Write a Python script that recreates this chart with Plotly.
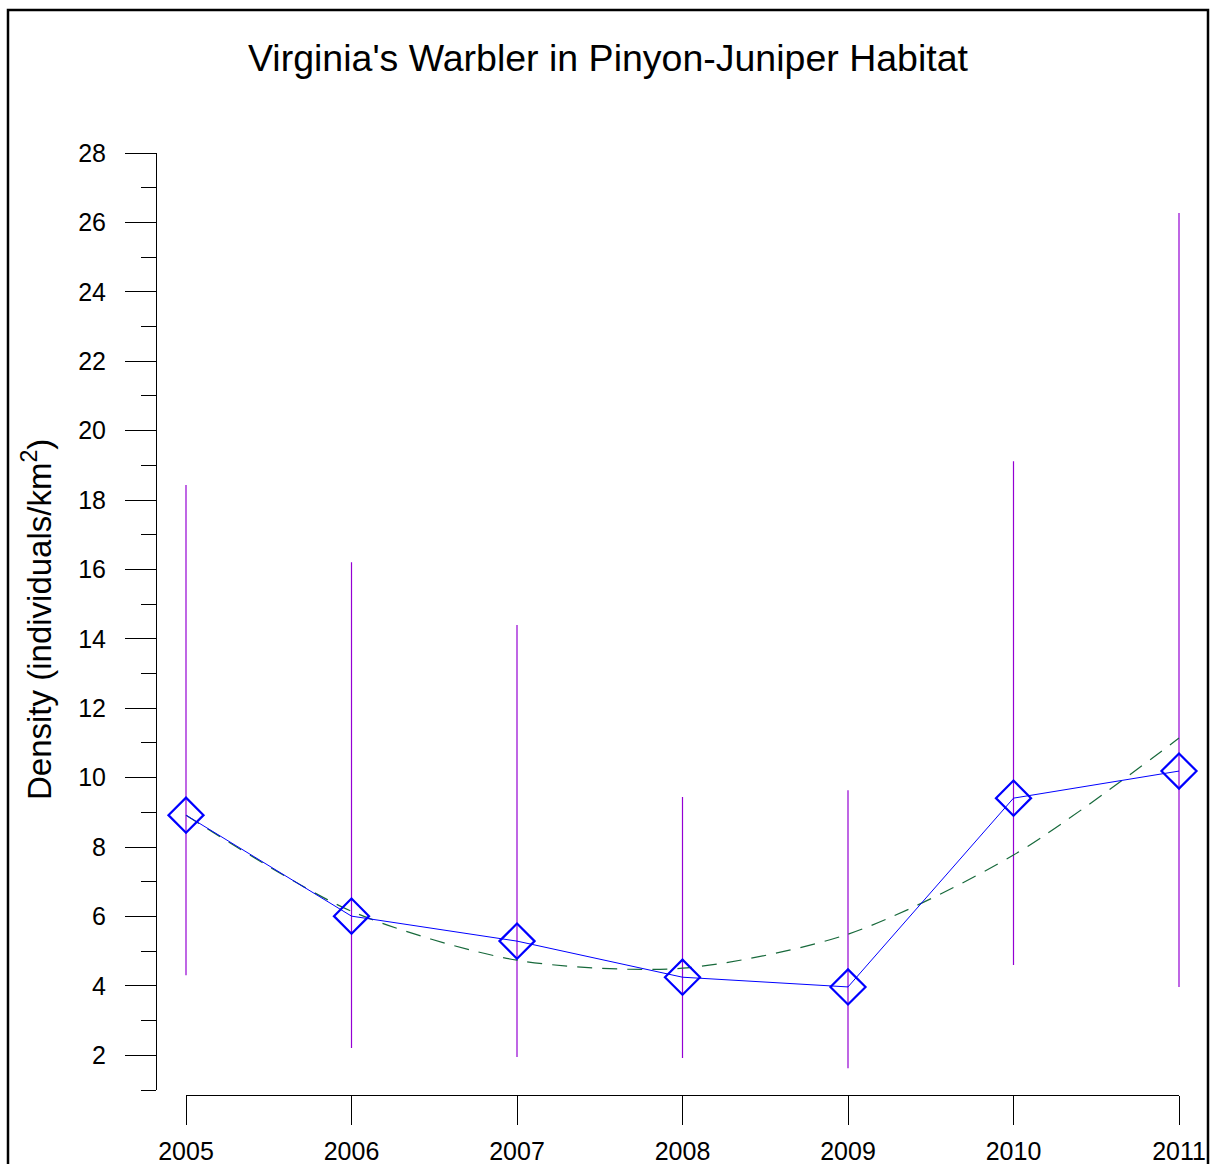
import plotly.graph_objects as go

years = [2005, 2006, 2007, 2008, 2009, 2010, 2011]
density = [8.92, 6.01, 5.29, 4.25, 3.97, 9.41, 10.19]
upper_ci = [18.43, 16.21, 14.40, 9.44, 9.64, 19.12, 26.27]
lower_ci = [4.31, 2.21, 1.95, 1.92, 1.63, 4.60, 3.97]
trend = [8.92, 6.15, 4.74, 4.51, 5.49, 7.77, 11.14]

y_ticks = list(range(2, 29, 2))
title_text = "Virginia's Warbler in Pinyon-Juniper Habitat"
y_title = "Density (individuals/km<sup>2</sup>)"

ERR_COLOR = "#9400D3"
W, H = 1212, 1164
OFF = 0  # body margin removed below

# target pixel geometry (reference coordinates)
X0_PX, X1_PX = 186, 1179      # 2005 and 2011
YAX_PX = 156                  # y-axis line
XAX_PX = 1095                 # x-axis line
YTOP_PX, YBOT_PX = 153, 1090  # y = 28 and y = 1
PR_PX = 1200                  # right edge of plot area

L = YAX_PX - OFF
T = YTOP_PX - OFF
R = W - (PR_PX - OFF)
B = H - (XAX_PX - OFF)
pw = W - L - R
ph = H - T - B

# data x axis spans whole plot area; its range maps 2005->X0_PX, 2011->X1_PX
scale = (X1_PX - X0_PX) / 6.0
x_lo = 2005 - (X0_PX - YAX_PX) / scale
x_hi = 2005 + (PR_PX - X0_PX) / scale


def px_x(p):
    return (p - OFF - L) / pw


def px_y(p):
    return (H - B - (p - OFF)) / ph


fig = go.Figure()

for yr, lo, hi in zip(years, lower_ci, upper_ci):
    fig.add_trace(go.Scatter(x=[yr, yr], y=[lo, hi], mode="lines",
                             line=dict(color=ERR_COLOR, width=1.2),
                             showlegend=False, hoverinfo="skip"))

fig.add_trace(go.Scatter(x=years, y=trend, mode="lines",
                         line=dict(color="#17693B", width=1.2, dash="15px,10px", shape="spline", smoothing=0.8),
                         showlegend=False))

fig.add_trace(go.Scatter(x=years, y=density, mode="lines+markers",
                         line=dict(color="#0000FF", width=1),
                         marker=dict(symbol="diamond-open", size=27, color="#0000FF",
                                     line=dict(width=2.2, color="#0000FF")),
                         cliponaxis=False, showlegend=False))

# invisible trace to activate display axis
fig.add_trace(go.Scatter(x=years, y=density, xaxis="x2", mode="markers",
                         marker=dict(opacity=0), showlegend=False, hoverinfo="skip"))

fig.update_layout(
    width=W, height=H, autosize=False,
    margin=dict(l=L, r=R, t=T, b=B, pad=0, autoexpand=False),
    paper_bgcolor="white", plot_bgcolor="rgba(0,0,0,0)",
    font=dict(family="Liberation Sans, Arial, sans-serif", color="black"),
    title=dict(text=title_text, x=(608 - OFF) / W, xanchor="center",
               y=1 - (58 - OFF) / H, yanchor="middle", automargin=False,
               font=dict(size=37.5, color="black")),
    xaxis=dict(domain=[0, 1], range=[x_lo, x_hi], visible=False, automargin=False,
               showgrid=False, zeroline=False),
    xaxis2=dict(domain=[px_x(X0_PX), px_x(X1_PX)], range=[2005, 2011],
                anchor="free", position=0, automargin=False,
                tickmode="array", tickvals=years, ticktext=[str(y) for y in years],
                ticks="outside", ticklen=29, tickcolor="black", tickwidth=1,
                showline=True, linecolor="black", linewidth=1,
                showgrid=False, zeroline=False,
                tickfont=dict(size=25), ticklabelstandoff=5),
    yaxis=dict(domain=[(XAX_PX - YBOT_PX) / ph, 1], range=[1, 28], anchor="free", position=0,
               automargin=False,
               tickmode="array", tickvals=y_ticks,
               ticks="outside", ticklen=31, tickcolor="black", tickwidth=1,
               minor=dict(dtick=1, tick0=1, ticks="outside", ticklen=15, tickcolor="black", tickwidth=1, showgrid=False),
               showline=True, linecolor="black", linewidth=1,
               showgrid=False, zeroline=False,
               tickfont=dict(size=25), ticklabelstandoff=14),
)

fig.add_annotation(text=y_title, xref="paper", yref="paper",
                   x=px_x(37), y=px_y(620), xanchor="center", yanchor="middle",
                   textangle=-90, showarrow=False, font=dict(size=33, color="black"))

# outer frame
fig.add_shape(type="rect", xref="paper", yref="paper",
              x0=px_x(8), x1=px_x(1208),
              y0=px_y(1200), y1=px_y(10),
              line=dict(color="black", width=2.5), fillcolor="rgba(0,0,0,0)", layer="above")

fig.write_html("out.html", config={"displayModeBar": False},
               post_script="document.body.style.margin='0px';")
